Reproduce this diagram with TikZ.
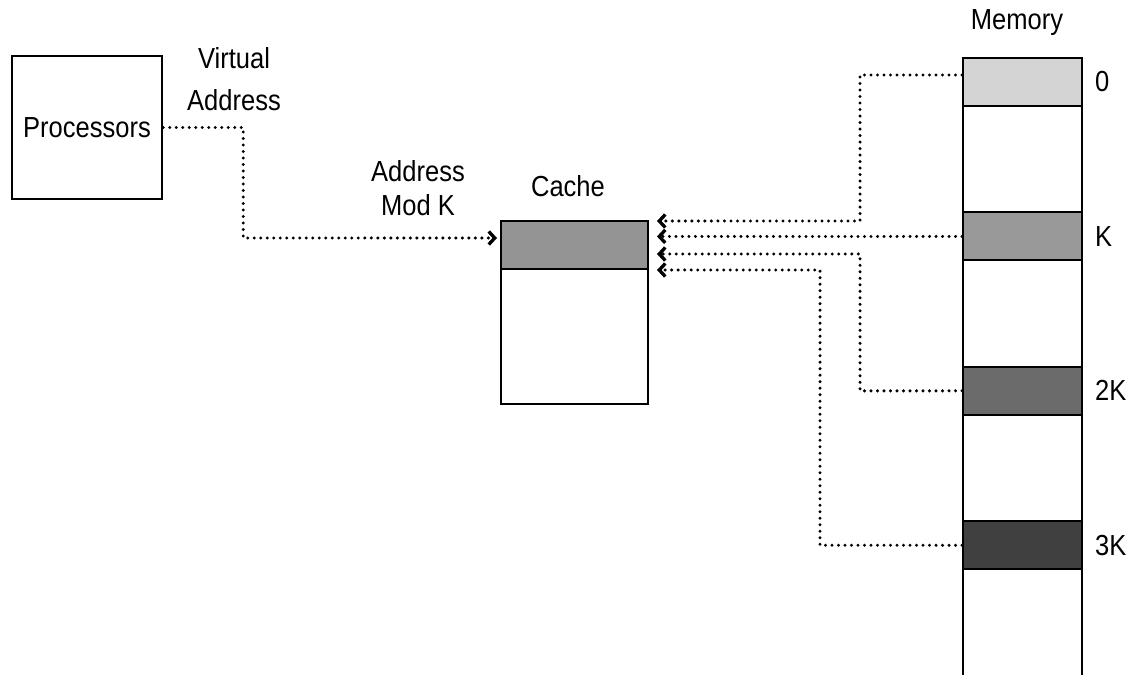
\documentclass[tikz,border=0pt]{standalone}
\usepackage{xcolor}
\usepackage{fontspec}
\setmainfont{Liberation Sans}[FakeStretch=0.88]
\usepackage{tikz}
\usetikzlibrary{arrows.meta, positioning}

\definecolor{memlight}{gray}{0.83}
\definecolor{memmid}{gray}{0.60}
\definecolor{memdark}{gray}{0.42}
\definecolor{memblack}{gray}{0.25}
\definecolor{cachegray}{gray}{0.58}

\begin{document}
\begin{tikzpicture}[
  font=\fontsize{16.5}{19}\selectfont,
  box/.style={rectangle, draw, line width=1.4pt, inner sep=0pt},
  slot/.style={rectangle, draw, line width=1.1pt, minimum width=2.38cm, minimum height=0.96cm, inner sep=0pt},
  wall/.style={draw, line width=1.4pt},
  line/.style={draw, line width=1.9pt, line cap=round, dash pattern=on 0pt off 3.7pt, -{Straight Barb[length=1.2mm, width=2.6mm]}}
]
  \useasboundingbox (0,0) rectangle (22.62,13.5);

  \node [box, minimum width=3cm, minimum height=2.86cm] (proc) at (1.74,10.95) {Processors};
  \node [align=center] (vaddr) at (4.68,11.92) {Virtual\\[5pt]Address};
  \node [align=center] (modk) at (8.36,9.74) {Address\\Mod K};

  \node (cachelbl) at (11.36,9.78) {Cache};
  \node [box, minimum width=2.94cm, minimum height=3.66cm] (cache) at (11.49,7.25) {};
  \node [slot, fill=cachegray, minimum width=2.94cm] (cline) at (11.49,8.6) {};

  \node (memlbl) at (20.34,13.04) {Memory};
  \draw [wall] (19.26,0) |- (21.64,12.34) -- (21.64,0);
  \node [slot, fill=memlight] (m0) at (20.45,11.86) {};
  \node [slot, fill=memmid, below=2.09cm of m0] (mK) {};
  \node [slot, fill=memdark, below=2.09cm of mK] (m2K) {};
  \node [slot, fill=memblack, below=2.09cm of m2K] (m3K) {};
  \node [right=0.12cm of m0] (l0) {0};
  \node [right=0.12cm of mK] (lK) {K};
  \node [right=0.12cm of m2K] (l2K) {2K};
  \node [right=0.12cm of m3K] (l3K) {3K};

  \coordinate (inC) at (9.94,8.74);
  \coordinate (in0) at (13.14,9.08);
  \coordinate (in2K) at (13.14,8.42);
  \coordinate (in3K) at (13.14,8.10);

  \draw [line] (proc.east) -- ++(1.6,0) |- (inC);
  \draw [line] ([yshift=0.14cm]m0.west) -- ++(-2.04,0) |- (in0);
  \draw [line] (mK.west) -- (mK.west -| in0);
  \draw [line] (m2K.west) -- ++(-2.04,0) |- (in2K);
  \draw [line] (m3K.west) -- ++(-2.84,0) |- (in3K);
\end{tikzpicture}
\end{document}
